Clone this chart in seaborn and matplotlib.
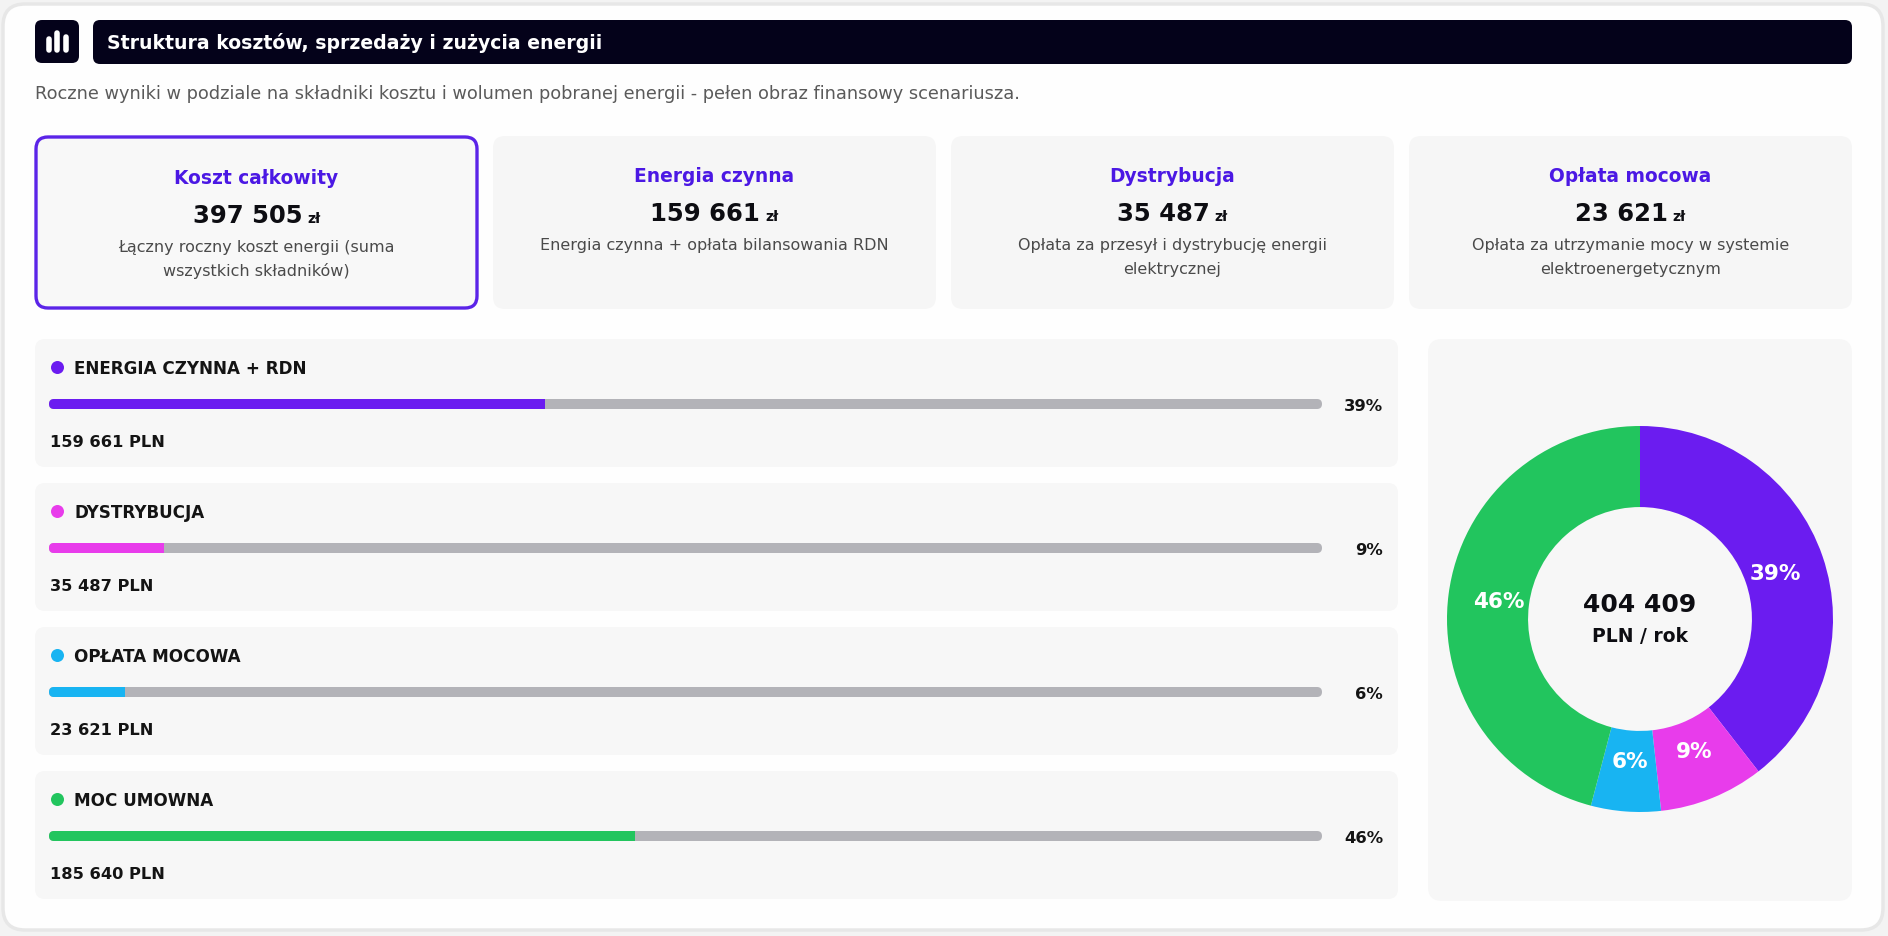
import matplotlib
matplotlib.use("Agg")
import matplotlib.pyplot as plt
from matplotlib.patches import FancyBboxPatch
import seaborn as sns

# ---------------- data ----------------
TITLE = "Struktura kosztów, sprzedaży i zużycia energii"
SUBTITLE = ("Roczne wyniki w podziale na składniki kosztu i wolumen pobranej energii - "
            "pełen obraz finansowy scenariusza.")

kpi_titles = ["Koszt całkowity", "Energia czynna", "Dystrybucja", "Opłata mocowa"]
kpi_values = ["397 505", "159 661", "35 487", "23 621"]
kpi_unit = "zł"
kpi_desc = [
    ["Łączny roczny koszt energii (suma", "wszystkich składników)"],
    ["Energia czynna + opłata bilansowania RDN"],
    ["Opłata za przesył i dystrybucję energii", "elektrycznej"],
    ["Opłata za utrzymanie mocy w systemie", "elektroenergetycznym"],
]

categories = ["ENERGIA CZYNNA + RDN", "DYSTRYBUCJA", "OPŁATA MOCOWA", "MOC UMOWNA"]
amounts = [159661, 35487, 23621, 185640]
amount_labels = ["159 661 PLN", "35 487 PLN", "23 621 PLN", "185 640 PLN"]
percents = [39, 9, 6, 46]
track_full = [100, 100, 100, 100]
colors = ["#6B1CF0", "#E83CEB", "#18B4F2", "#22C55E"]

donut_total = "404 409"
donut_unit = "PLN / rok"

# ---------------- style ----------------
sns.set_theme(style="white")
plt.rcParams["font.family"] = ["DejaVu Sans"]

W, H = 1888, 937
DPI = 100
fig = plt.figure(figsize=(W / DPI, H / DPI), dpi=DPI, facecolor="#f3f3f3")
bg = fig.add_axes([0, 0, 1, 1])
bg.set_xlim(0, W)
bg.set_ylim(H, 0)
bg.axis("off")

PX = DPI / 72.0  # px per pt


def rbox(ax, x0, y0, x1, y1, r, fc, ec="none", lw=0, z=1):
    p = FancyBboxPatch((x0, y0), x1 - x0, y1 - y0,
                       boxstyle=f"round,pad=0,rounding_size={r}",
                       fc=fc, ec=ec, lw=lw, zorder=z)
    ax.add_patch(p)
    return p


def txt(x, yc, s, size, weight="normal", color="#111111", ha="left", z=5):
    # yc = visual centre of capitals -> baseline
    base = yc + 0.36 * size * PX
    return bg.text(x, base, s, fontsize=size, fontweight=weight, color=color,
                   ha=ha, va="baseline", zorder=z)


# outer card
rbox(bg, 3, 5, 1883, 931, 22, "#fefefe", ec="#e7e7e7", lw=2.5, z=0)

# icon + title bar
rbox(bg, 35, 21, 79, 64, 7, "#04021a", z=1)
for xb, ytop in zip([48.5, 57, 65.5], [40, 34, 38]):
    bg.plot([xb, xb], [ytop, 51], color="white", lw=4.0,
            solid_capstyle="round", zorder=2)
rbox(bg, 93, 21, 1852, 65, 7, "#04021a", z=1)
txt(107, 42.5, TITLE, 13.6, "bold", "white")

# subtitle
txt(35, 93, SUBTITLE, 12.8, "normal", "#5a5a5a")

# KPI cards
card_w = 443
gap = (1852 - 35 - 4 * card_w) / 3
renderer = fig.canvas.get_renderer()
for i in range(4):
    x0 = 35 + i * (card_w + gap)
    cx = x0 + card_w / 2
    dy = 2 if i == 0 else 0
    if i == 0:
        rbox(bg, x0 + 1, 138, x0 + card_w - 1, 309, 12, "#f8f8f8",
             ec="#5B24E8", lw=2.4, z=1)
    else:
        rbox(bg, x0, 137, x0 + card_w, 310, 12, "#f6f6f6", z=1)
    txt(cx, 175 + dy, kpi_titles[i], 13.4, "bold", "#4B18E4", ha="center")
    # value + unit, centred together
    base = 212 + dy + 0.36 * 17.5 * PX
    t1 = bg.text(0, base, kpi_values[i], fontsize=17.5, fontweight="bold",
                 color="#0d0d12", ha="left", va="baseline", zorder=5)
    t2 = bg.text(0, base, kpi_unit, fontsize=10, fontweight="bold",
                 color="#0d0d12", ha="left", va="baseline", zorder=5)
    w1 = t1.get_window_extent(renderer).width
    w2 = t2.get_window_extent(renderer).width
    g = 5
    start = cx - (w1 + g + w2) / 2
    t1.set_x(start)
    t2.set_x(start + w1 + g)
    for j, line in enumerate(kpi_desc[i]):
        txt(cx, 244 + dy + j * 24, line, 11.5, "normal", "#4a4a4a", ha="center")

# bar cards
card_tops = [340 + 144 * i for i in range(4)]
for i, top in enumerate(card_tops):
    rbox(bg, 35, top, 1398, top + 128, 10, "#f7f7f7", z=1)
    bg.scatter([57], [top + 28], s=(13 * 0.72) ** 2, color=colors[i], zorder=5,
               linewidths=0)
    txt(74, top + 28, categories[i], 12.1, "bold", "#141414")
    txt(50, top + 101, amount_labels[i], 11.7, "bold", "#141414")
    txt(1383, top + 65, f"{percents[i]}%", 11.8, "bold", "#141414", ha="right")

# progress bars (seaborn)
bx0, bx1 = 49, 1322
by0, by1 = 405 - 72, 405 + 3 * 144 + 72
axb = fig.add_axes([bx0 / W, 1 - by1 / H, (bx1 - bx0) / W, (by1 - by0) / H])
axb.patch.set_alpha(0)
bar_h = 10 / 144
sns.barplot(x=track_full, y=categories, orient="h", color="#B3B3B8",
            width=bar_h, saturation=1, linewidth=0, ax=axb)
sns.barplot(x=percents, y=categories, hue=categories, palette=colors,
            orient="h", dodge=False, width=bar_h, saturation=1, legend=False,
            linewidth=0, ax=axb)
axb.set_xlim(0, 100)
axb.set_ylim(3.5, -0.5)
axb.axis("off")
xu = 100 / (bx1 - bx0)        # x units per px
yu = 4 / (by1 - by0)          # y units per px
for p in axb.patches:
    p.set_edgecolor("none")
    yc = p.get_y() + p.get_height() / 2
    clip = FancyBboxPatch((0, yc - bar_h / 2), 100, bar_h,
                          boxstyle=f"round,pad=0,rounding_size={5 * xu}",
                          mutation_aspect=yu / xu, transform=axb.transData)
    p.set_clip_path(clip)

# donut card
rbox(bg, 1428, 340, 1852, 902, 14, "#f7f7f7", z=1)
R = 193
cxp, cyp = 1640, 620
axd = fig.add_axes([(cxp - R) / W, 1 - (cyp + R) / H, 2 * R / W, 2 * R / H])
axd.pie(amounts, colors=colors, startangle=90, counterclock=False,
        autopct="%.0f%%", pctdistance=0.74, radius=1,
        wedgeprops=dict(width=0.42, linewidth=0),
        textprops=dict(color="white", fontsize=15.5, fontweight="bold"))
axd.set_xlim(-1, 1)
axd.set_ylim(-1, 1)
axd.set_aspect("equal")
axd.axis("off")
axd.text(0, 0.078, donut_total, fontsize=18, fontweight="bold", color="#0d0d12",
         ha="center", va="center")
axd.text(0, -0.085, donut_unit, fontsize=13.5, fontweight="bold", color="#0d0d12",
         ha="center", va="center")

fig.savefig("out.png", dpi=DPI, facecolor=fig.get_facecolor())
